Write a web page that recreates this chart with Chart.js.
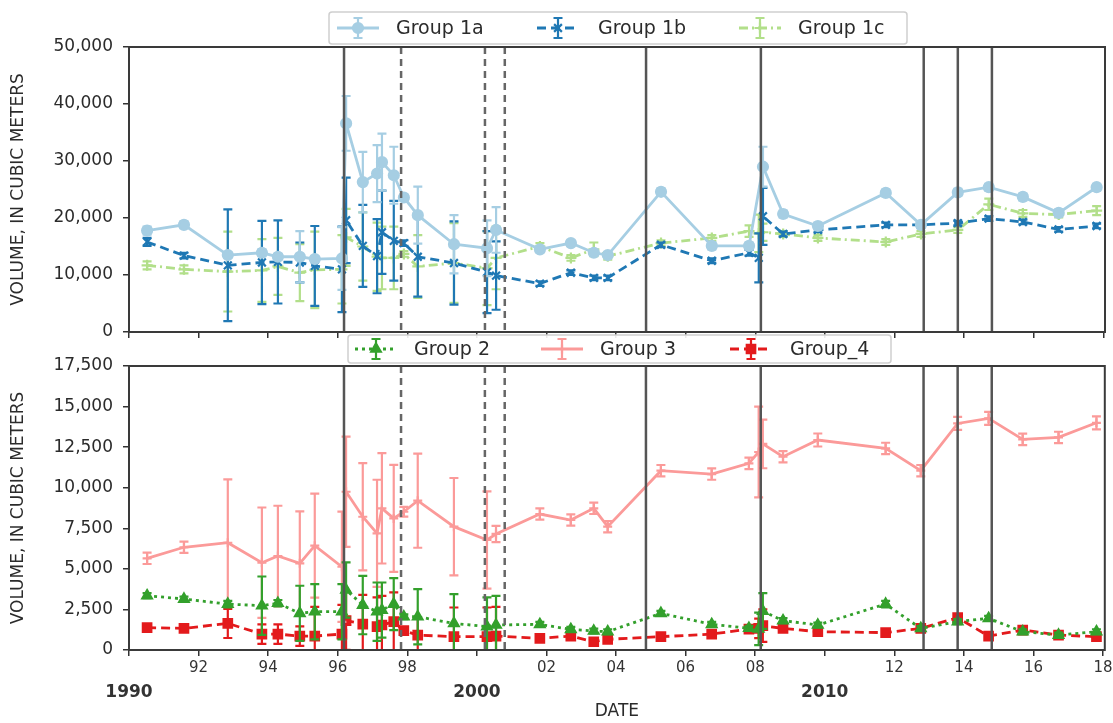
<!DOCTYPE html>
<html>
<head>
<meta charset="utf-8">
<script src="https://cdn.jsdelivr.net/npm/chart.js@4.4.1/dist/chart.umd.min.js"></script>
<style>
  html, body { margin: 0; padding: 0; background: #fff; }
  #wrap { position: relative; width: 1113px; height: 723px; }
  #wrap canvas { position: absolute; left: 0; top: 0; }
</style>
</head>
<body>
<div id="wrap">
  <canvas id="topChart" width="1113" height="723"></canvas>
  <canvas id="bottomChart" width="1113" height="723"></canvas>
</div>
<script>
// sampling dates (decimal years), shared by all groups
const dates = [1990.52, 1991.58, 1992.84, 1993.82, 1994.28, 1994.91, 1995.34, 1996.12, 1996.24, 1996.72,
  1997.13, 1997.27, 1997.61, 1997.90, 1998.30, 1999.34, 2000.29, 2000.55, 2001.81, 2002.70,
  2003.36, 2003.76, 2005.29, 2006.75, 2007.82, 2008.10, 2008.22, 2008.80, 2009.80, 2011.75,
  2012.76, 2013.82, 2014.71, 2015.69, 2016.72, 2017.81];

const g1a = [17800, 18800, 13500, 13900, 13200, 13200, 12800, 12900, 36600, 26300,
  27800, 29800, 27500, 23600, 20500, 15400, 14700, 17900, 14500, 15600,
  13900, 13500, 24600, 15100, 15100, null, 29000, 20700, 18600, 24400,
  18800, 24500, 25400, 23700, 20900, 25400];
const g1aErr = [700, 600, 500, 600, 500, 4500, 500, 5500, 4800, 5300,
  5000, 5000, 5000, 500, 5000, 5100, 4900, 4000, 500, 500,
  500, 500, 600, 600, 600, null, 3500, 600, 600, 600,
  600, 600, 600, 600, 600, 600];

const g1b = [15800, 13400, 11700, 12200, 12300, 12200, 11600, 11000, 19600, 15100,
  13300, 17500, 16000, 15600, 13200, 12100, 10500, 9900, 8500, 10400,
  9500, 9500, 15300, 12500, 13900, 13000, 20300, 17200, 17900, 18800,
  18800, 19100, 19900, 19300, 18000, 18600];
const g1bErr = [700, 500, 9800, 7300, 7300, 3500, 7000, 7500, 7500, 7200,
  6500, 7300, 7000, 500, 7000, 7300, 7200, 6000, 400, 400,
  400, 400, 400, 400, 500, 4300, 5000, 400, 400, 400,
  400, 400, 400, 400, 400, 400];

const g1c = [11700, 11000, 10600, 10800, 11500, 10400, 10900, 11000, 16600, 15000,
  13200, 13000, 13000, 13700, 11500, 12100, 11200, 13000, 15000, 13000,
  14500, 13300, 15600, 16500, 17700, 17300, 17500, 17200, 16500, 15800,
  17200, 17900, 22400, 20800, 20600, 21300];
const g1cErr = [700, 700, 7000, 5500, 5000, 5000, 6700, 6000, 5000, 6000,
  6000, 5500, 5500, 500, 5500, 7000, 6500, 5500, 600, 500,
  1200, 600, 500, 500, 1000, 3300, 1500, 500, 500, 500,
  500, 500, 1000, 600, 500, 800];

const g2 = [3350, 3140, 2830, 2730, 2880, 2260, 2360, 2360, 3700, 2770,
  2360, 2460, 2830, 2050, 2050, 1640, 1440, 1540, 1580, 1270,
  1170, 1130, 2260, 1580, 1340, 1300, 2400, 1810, 1540, 2830,
  1330, 1750, 1950, 1130, 920, 1130];
const g2Err = [150, 150, 200, 1800, 200, 1700, 1700, 1700, 1700, 1800,
  1800, 1700, 1600, 150, 1700, 1800, 1800, 1800, 150, 150,
  150, 150, 150, 150, 150, 1000, 1100, 150, 150, 200,
  150, 150, 150, 150, 150, 150];

const g3 = [5650, 6330, 6610, 5380, 5790, 5340, 6430, 5130, 9750, 8210,
  7190, 8730, 8110, 8520, 9200, 7600, 6780, 7150, 8380, 8010,
  8730, 7600, 11050, 10840, 11500, 12200, 12700, 11910, 12940, 12420,
  11050, 13960, 14270, 12980, 13100, 14000];
const g3Err = [350, 350, 3900, 3400, 3100, 3200, 3200, 3400, 3400, 3300,
  3300, 3400, 3300, 300, 2900, 3000, 3000, 500, 350, 350,
  350, 350, 350, 350, 350, 2800, 1500, 350, 400, 350,
  350, 400, 400, 350, 350, 400];

const g4 = [1380, 1330, 1640, 980, 980, 860, 860, 980, 1810, 1600,
  1440, 1540, 1750, 1190, 920, 820, 820, 860, 720, 860,
  510, 660, 820, 980, 1290, 1330, 1500, 1330, 1130, 1070,
  1330, 1990, 860, 1230, 920, 820];
const g4Err = [150, 150, 900, 600, 600, 600, 1800, 1800, 1800, 1800,
  1800, 1800, 1800, 150, 1000, 1800, 1800, 1800, 150, 200,
  150, 150, 150, 150, 200, 600, 1000, 150, 150, 150,
  150, 200, 150, 150, 150, 150];

// event markers
const solidLines = [1996.18, 2004.86, 2008.16, 2012.84, 2013.82, 2014.80];
const dashedLines = [1997.82, 2000.23, 2000.80];

// ticks
const xTicks = [1990, 1992, 1994, 1996, 1998, 2000, 2002, 2004, 2006, 2008, 2010, 2012, 2014, 2016, 2018];
const topTicks = [0, 10000, 20000, 30000, 40000, 50000];
const bottomTicks = [0, 2500, 5000, 7500, 10000, 12500, 15000, 17500];

const FONT = 'DejaVu Sans';
const TEXT = '#2b2b2b';

function series(label, vals, errs, color, dash, marker, radius) {
  return {
    label: label,
    data: dates.map((d, i) => ({ x: d, y: vals[i] })),
    errors: errs,
    borderColor: color,
    backgroundColor: color,
    borderWidth: 2.8,
    borderDash: dash,
    pointStyle: marker,
    pointRadius: radius,
    pointBorderWidth: 2.2,
    pointBackgroundColor: color,
    pointBorderColor: color,
    spanGaps: true,
    tension: 0
  };
}

// vertical error bars with caps
const errorBars = {
  id: 'errorBars',
  beforeDatasetDraw(chart, args) {
    const ds = chart.data.datasets[args.index];
    if (!ds.errors) return;
    const xs = chart.scales.x, ys = chart.scales.y, a = chart.chartArea, ctx = chart.ctx;
    ctx.save();
    ctx.beginPath();
    ctx.rect(a.left, a.top, a.width, a.height);
    ctx.clip();
    ctx.strokeStyle = ds.borderColor;
    ctx.lineWidth = 2.2;
    ctx.beginPath();
    ds.data.forEach((p, i) => {
      const e = ds.errors[i];
      if (p.y == null || !e) return;
      const px = xs.getPixelForValue(p.x);
      const y1 = ys.getPixelForValue(p.y + e);
      const y2 = ys.getPixelForValue(p.y - e);
      ctx.moveTo(px, y1); ctx.lineTo(px, y2);
      ctx.moveTo(px - 4.5, y1); ctx.lineTo(px + 4.5, y1);
      ctx.moveTo(px - 4.5, y2); ctx.lineTo(px + 4.5, y2);
    });
    ctx.stroke();
    ctx.restore();
  }
};

// event lines + frame round the plot
const eventLines = {
  id: 'eventLines',
  afterDatasetsDraw(chart) {
    const xs = chart.scales.x, a = chart.chartArea, ctx = chart.ctx;
    ctx.save();
    ctx.lineWidth = 2.5;
    const draw = (list, color, dash) => {
      ctx.strokeStyle = color;
      ctx.setLineDash(dash);
      list.forEach(d => {
        const px = xs.getPixelForValue(d);
        ctx.beginPath();
        ctx.moveTo(px, a.top);
        ctx.lineTo(px, a.bottom);
        ctx.stroke();
      });
    };
    draw(solidLines, '#555', []);
    draw(dashedLines, '#666', [7, 5]);
    ctx.setLineDash([]);
    ctx.strokeStyle = '#3a3a3a';
    ctx.lineWidth = 2;
    ctx.strokeRect(a.left, a.top, a.width, a.height);
    ctx.restore();
  }
};

// matplotlib-like framed legend
const boxLegend = {
  id: 'boxLegend',
  afterDraw(chart, args, opts) {
    const ctx = chart.ctx;
    const [l, t, w, h] = opts.box;
    const cy = t + h / 2;
    ctx.save();
    ctx.fillStyle = 'rgba(255,255,255,0.9)';
    ctx.strokeStyle = '#cfcfcf';
    ctx.lineWidth = 1.5;
    ctx.beginPath();
    ctx.roundRect(l, t, w, h, 3);
    ctx.fill();
    ctx.stroke();
    chart.data.datasets.forEach((ds, i) => {
      const cx = opts.symbolX[i];
      ctx.strokeStyle = ds.borderColor;
      ctx.fillStyle = ds.borderColor;
      ctx.lineWidth = 2.8;
      ctx.setLineDash(ds.borderDash || []);
      ctx.beginPath();
      ctx.moveTo(cx - 21, cy); ctx.lineTo(cx + 21, cy);
      ctx.stroke();
      ctx.setLineDash([]);
      ctx.lineWidth = 2.2;
      ctx.beginPath();
      ctx.moveTo(cx, cy - 10); ctx.lineTo(cx, cy + 10);
      ctx.moveTo(cx - 4.5, cy - 10); ctx.lineTo(cx + 4.5, cy - 10);
      ctx.moveTo(cx - 4.5, cy + 10); ctx.lineTo(cx + 4.5, cy + 10);
      ctx.stroke();
      Chart.helpers.drawPoint(ctx, { pointStyle: ds.pointStyle, radius: ds.pointRadius, rotation: 0, borderWidth: 2 }, cx, cy);
      ctx.fillStyle = TEXT;
      ctx.font = '19px "' + FONT + '"';
      ctx.textBaseline = 'middle';
      ctx.textAlign = 'left';
      ctx.fillText(ds.label, opts.textX[i], cy + 1);
    });
    ctx.restore();
  }
};

function xScale(showLabels, height) {
  return {
    type: 'linear',
    min: 1990,
    max: 2018.05,
    afterBuildTicks: s => { s.ticks = xTicks.map(v => ({ value: v })); },
    afterFit: s => { s.height = height; s.paddingLeft = 0; s.paddingRight = 0; },
    grid: { drawOnChartArea: false, tickLength: 6, color: '#333', lineWidth: 1.5 },
    border: { display: false },
    ticks: {
      display: showLabels,
      autoSkip: false,
      maxRotation: 0,
      padding: 3,
      color: '#333',
      callback: v => v % 10 === 0 ? ['', String(v)] : String(v).slice(2),
      font: c => (c.tick && c.tick.value % 10 === 0)
        ? { family: FONT, size: 17, weight: 'bold', lineHeight: 1.3 }
        : { family: FONT, size: 15 }
    },
    title: {
      display: showLabels,
      text: 'DATE',
      color: TEXT,
      font: { family: FONT, size: 17 },
      padding: { top: 0, bottom: 1 }
    }
  };
}

function yScale(ticks, max) {
  return {
    min: 0,
    max: max,
    afterBuildTicks: s => { s.ticks = ticks.map(v => ({ value: v })); },
    afterFit: s => { s.width = 129; },
    grid: { drawOnChartArea: false, tickLength: 6, color: '#333', lineWidth: 1.5 },
    border: { display: false },
    ticks: {
      padding: 10,
      color: TEXT,
      font: { family: FONT, size: 17 },
      callback: v => v.toLocaleString('en-US')
    },
    title: {
      display: true,
      text: 'VOLUME, IN CUBIC METERS',
      color: TEXT,
      font: { family: FONT, size: 17 },
      padding: { top: 8, bottom: 0 }
    }
  };
}

const common = {
  responsive: false,
  animation: false,
  devicePixelRatio: 1,
  events: []
};

const topChart = new Chart(document.getElementById('topChart'), {
  type: 'line',
  data: {
    datasets: [
      series('Group 1a', g1a, g1aErr, '#a6cee3', [], 'circle', 5),
      series('Group 1b', g1b, g1bErr, '#1f78b4', [9, 5], 'crossRot', 5.5),
      series('Group 1c', g1c, g1cErr, '#b2df8a', [9, 4, 2, 4], 'cross', 5.5)
    ]
  },
  options: Object.assign({}, common, {
    layout: { padding: { top: 47, right: 8, bottom: 385, left: 0 } },
    scales: { x: xScale(false, 6), y: yScale(topTicks, 50000) },
    plugins: {
      legend: { display: false },
      tooltip: { enabled: false },
      boxLegend: { box: [329, 12, 578, 32], symbolX: [358, 558, 760], textX: [396, 598, 798] }
    }
  }),
  plugins: [errorBars, eventLines, boxLegend]
});

const bottomChart = new Chart(document.getElementById('bottomChart'), {
  type: 'line',
  data: {
    datasets: [
      series('Group 2', g2, g2Err, '#33a02c', [3, 4], 'triangle', 5.5),
      series('Group 3', g3, g3Err, '#fb9a99', [], 'cross', 4.5),
      series('Group_4', g4, g4Err, '#e31a1c', [9, 5], 'rect', 6)
    ]
  },
  options: Object.assign({}, common, {
    layout: { padding: { top: 366, right: 8, bottom: 0, left: 0 } },
    scales: { x: xScale(true, 73), y: yScale(bottomTicks, 17500) },
    plugins: {
      legend: { display: false },
      tooltip: { enabled: false },
      boxLegend: { box: [348, 335, 543, 28], symbolX: [376, 562, 751], textX: [414, 600, 790] }
    }
  }),
  plugins: [errorBars, eventLines, boxLegend]
});
</script>
</body>
</html>
